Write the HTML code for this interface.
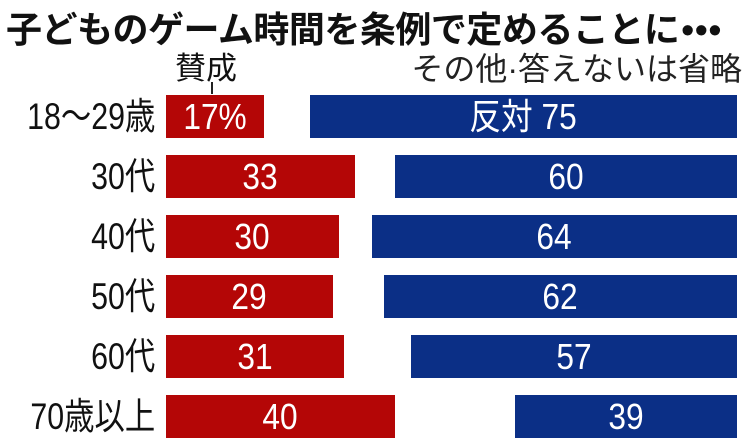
<!DOCTYPE html>
<html><head><meta charset="utf-8"><style>
body{margin:0;width:750px;height:445px;background:#fff;position:relative;overflow:hidden;font-family:"Liberation Sans","Noto Sans CJK JP",sans-serif;}
.t{position:absolute;white-space:nowrap;}
.bar{position:absolute;height:43px;color:#fff;line-height:43px;text-align:center;}
.bar span{display:inline-block;font-size:36px;transform:scaleX(0.88);}
.r{background:#b40606;}
.b{background:#0b2f86;}
.lab{position:absolute;right:595px;font-size:37px;line-height:43px;color:#111;transform:scaleX(0.82);transform-origin:right;white-space:nowrap;}
</style></head><body>
<div class="t" style="left:6px;top:1px;font-size:36px;font-weight:bold;color:#111;letter-spacing:-0.5px;">子どものゲーム時間を条例で定めることに<span style="letter-spacing:1px;margin-left:2px">•••</span></div>
<div class="t" style="left:175px;top:43px;font-size:31px;color:#111;">賛成</div>
<div style="position:absolute;left:211px;top:82px;width:2px;height:12px;background:#222;"></div>
<div class="t" style="right:8px;top:44px;font-size:32px;color:#222;">その他·答えないは省略</div>

<div class="lab" style="top:95px">18～29歳</div>
<div class="bar r" style="left:166px;top:95px;width:98px"><span>17%</span></div>
<div class="bar b" style="left:310px;top:95px;width:427px"><span>反対 75</span></div>

<div class="lab" style="top:155px">30代</div>
<div class="bar r" style="left:166px;top:155px;width:189px"><span>33</span></div>
<div class="bar b" style="left:395px;top:155px;width:342px"><span>60</span></div>

<div class="lab" style="top:215px">40代</div>
<div class="bar r" style="left:166px;top:215px;width:173px"><span>30</span></div>
<div class="bar b" style="left:372px;top:215px;width:365px"><span>64</span></div>

<div class="lab" style="top:275px">50代</div>
<div class="bar r" style="left:166px;top:275px;width:167px"><span>29</span></div>
<div class="bar b" style="left:384px;top:275px;width:353px"><span>62</span></div>

<div class="lab" style="top:335px">60代</div>
<div class="bar r" style="left:166px;top:335px;width:178px"><span>31</span></div>
<div class="bar b" style="left:411px;top:335px;width:326px"><span>57</span></div>

<div class="lab" style="top:395px">70歳以上</div>
<div class="bar r" style="left:166px;top:395px;width:229px"><span>40</span></div>
<div class="bar b" style="left:515px;top:395px;width:222px"><span>39</span></div>
</body></html>
